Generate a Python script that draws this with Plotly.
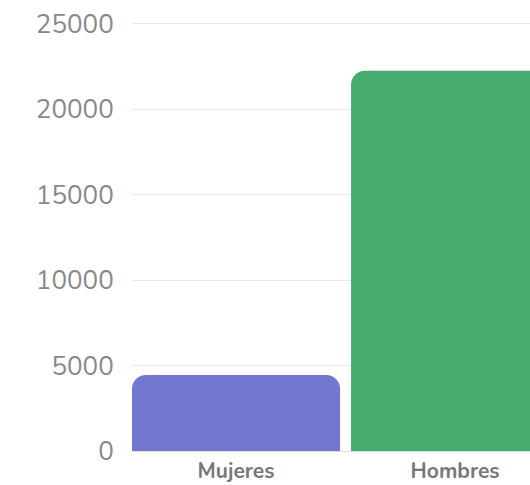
import plotly.graph_objects as go

categories = ["Mujeres", "Hombres"]
values = [4450, 22250]
colors = ["#7377cf", "#46ad6f"]
y_ticks = [0, 5000, 10000, 15000, 20000, 25000]
y_tick_labels = ["0", "5000", "10000", "15000", "20000", "25000"]

fig = go.Figure(go.Bar(
    x=list(range(len(categories))),
    y=values,
    width=0.95,
    marker=dict(color=colors, line=dict(width=0), cornerradius=14),
    hoverinfo="skip",
))

fig.update_layout(
    width=530, height=485,
    margin=dict(l=132, r=0, t=22, b=34),
    paper_bgcolor="white", plot_bgcolor="white",
    showlegend=False,
    font=dict(family="Nunito, Lato, sans-serif"),
    xaxis=dict(
        tickmode="array",
        tickvals=list(range(len(categories))),
        ticktext=categories,
        range=[-0.475, 1.342],
        automargin=False,
        ticklabeloverflow="allow",
        showgrid=False, zeroline=False,
        showline=True, linecolor="#dddddd", linewidth=1,
        tickfont=dict(size=21, color="#777777", family="Nunito, Lato, sans-serif", weight="bold"),
        ticks="outside", ticklen=1, tickcolor="rgba(0,0,0,0)",
    ),
    yaxis=dict(
        range=[0, 25100],
        tickmode="array",
        tickvals=y_ticks,
        ticktext=y_tick_labels,
        automargin=False,
        ticklabeloverflow="allow",
        showgrid=True, gridcolor="#e8e8e8", gridwidth=1,
        zeroline=False, showline=False,
        tickfont=dict(size=26, color="#888888", family="Nunito, Lato, sans-serif"),
        ticks="outside", ticklen=12, tickcolor="rgba(0,0,0,0)",
    ),
)

fig.write_html(
    "out.html",
    config={"displayModeBar": False, "staticPlot": True},
    post_script="document.body.style.margin='0';document.body.style.overflow='hidden';",
)
